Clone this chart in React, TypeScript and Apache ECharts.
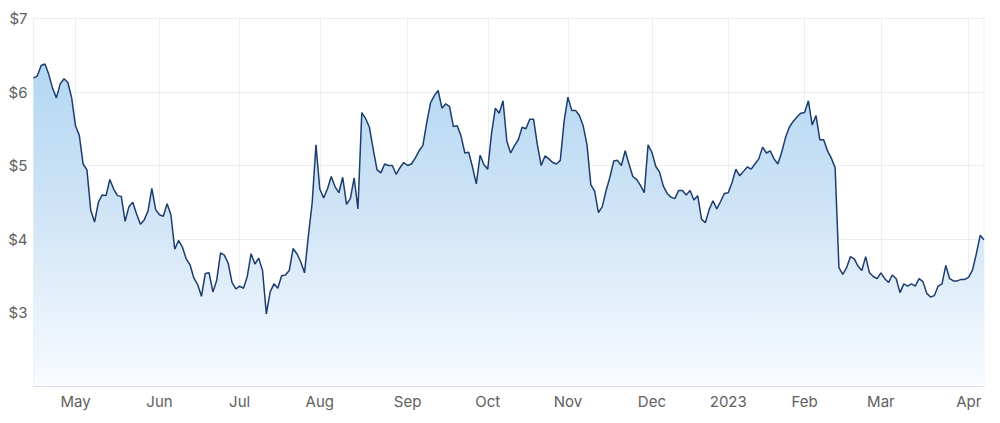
import * as echarts from "echarts";
import { useEffect, useRef } from "react";

// ASX trading calendar for the period shown
const startDay = "2022-04-12";
const endDay = "2023-04-11";
const holidays = [
  "2022-04-15", "2022-04-18", "2022-04-25", "2022-06-13", "2022-09-22",
  "2022-12-26", "2022-12-27", "2023-01-02", "2023-01-26", "2023-04-07", "2023-04-10",
];
const monthNames = ["Jan", "Feb", "Mar", "Apr", "May", "Jun", "Jul", "Aug", "Sep", "Oct", "Nov", "Dec"];

// closing price, one value per trading day
const prices = [
  6.19, 6.22, 6.36, 6.38, 6.24, 6.05, 5.92, 6.11, 6.18, 6.13, 5.92,
  5.54, 5.41, 5.02, 4.94, 4.39, 4.23, 4.5, 4.6, 4.59, 4.81,
  4.68, 4.59, 4.58, 4.24, 4.44, 4.5, 4.34, 4.2, 4.26, 4.38,
  4.69, 4.4, 4.33, 4.31, 4.48, 4.33, 3.86, 3.98, 3.89, 3.73,
  3.65, 3.47, 3.38, 3.22, 3.53, 3.54, 3.28, 3.44, 3.81, 3.78,
  3.67, 3.41, 3.32, 3.36, 3.33, 3.49, 3.8, 3.66, 3.74, 3.57,
  2.98, 3.28, 3.39, 3.33, 3.5, 3.51, 3.57, 3.87, 3.8, 3.69,
  3.54, 4.04, 4.49, 5.28, 4.68, 4.56, 4.68, 4.85, 4.71, 4.63,
  4.84, 4.47, 4.55, 4.83, 4.41, 5.72, 5.64, 5.52, 5.22, 4.94,
  4.9, 5.02, 5.0, 5.0, 4.88, 4.97, 5.04, 5.0, 5.02, 5.1,
  5.2, 5.27, 5.58, 5.85, 5.95, 6.02, 5.78, 5.84, 5.8, 5.53,
  5.54, 5.4, 5.17, 5.18, 4.98, 4.75, 5.14, 5.01, 4.95, 5.44,
  5.78, 5.71, 5.88, 5.33, 5.17, 5.27, 5.35, 5.52, 5.5, 5.63,
  5.63, 5.28, 5.0, 5.13, 5.09, 5.04, 5.02, 5.07, 5.6, 5.93,
  5.75, 5.75, 5.68, 5.54, 5.28, 4.74, 4.65, 4.36, 4.44, 4.66,
  4.84, 5.06, 5.07, 5.0, 5.2, 5.02, 4.85, 4.81, 4.73, 4.63,
  5.28, 5.18, 4.99, 4.91, 4.72, 4.62, 4.57, 4.55, 4.66, 4.66,
  4.6, 4.66, 4.53, 4.59, 4.27, 4.22, 4.4, 4.52, 4.41, 4.51,
  4.62, 4.63, 4.77, 4.95, 4.86, 4.92, 4.98, 4.95, 5.02, 5.09,
  5.25, 5.17, 5.2, 5.09, 5.02, 5.18, 5.38, 5.52, 5.6, 5.66,
  5.71, 5.72, 5.88, 5.55, 5.68, 5.35, 5.35, 5.2, 5.1, 4.97,
  3.61, 3.52, 3.61, 3.76, 3.73, 3.63, 3.57, 3.76, 3.54, 3.49,
  3.46, 3.54, 3.46, 3.41, 3.51, 3.46, 3.27, 3.39, 3.36, 3.39,
  3.36, 3.46, 3.42, 3.26, 3.21, 3.23, 3.36, 3.39, 3.64, 3.46,
  3.43, 3.43, 3.45, 3.45, 3.48, 3.58, 3.8, 4.05, 3.99,
];
const yLabels = [3, 4, 5, 6, 7];

function tradingDays(from: string, to: string, closed: string[]) {
  const out: string[] = [];
  const d = new Date(from + "T00:00:00Z");
  const last = new Date(to + "T00:00:00Z");
  while (d <= last) {
    const s = d.toISOString().slice(0, 10);
    const wd = d.getUTCDay();
    if (wd !== 0 && wd !== 6 && closed.indexOf(s) < 0) out.push(s);
    d.setUTCDate(d.getUTCDate() + 1);
  }
  return out;
}

const dates = tradingDays(startDay, endDay, holidays);

// first trading day of every month gets a label and a grid line
function isMonthStart(i: number) {
  if (i === 0) return false;
  return dates[i].slice(5, 7) !== dates[i - 1].slice(5, 7);
}

function monthLabel(v: string) {
  const m = parseInt(v.slice(5, 7), 10) - 1;
  return m === 0 ? v.slice(0, 4) : monthNames[m];
}

const App = () => {
  const chartRef = useRef<HTMLDivElement>(null);

  useEffect(() => {
    const chart = echarts.init(chartRef.current, undefined, { renderer: "svg" });
    chart.setOption({
      animation: false,
      grid: {
        left: 33.5,
        right: 16,
        top: 18.5,
        bottom: 37,
        show: true,
        borderColor: "#eceef1",
        borderWidth: 1,
      },
      xAxis: {
        type: "category",
        data: dates,
        boundaryGap: false,
        axisLine: { lineStyle: { color: "#dcdee2" } },
        axisTick: { show: false },
        axisLabel: {
          interval: (i: number) => isMonthStart(i),
          formatter: monthLabel,
          color: "#606060",
          fontSize: 15,
          fontFamily: "Inter",
          margin: 8,
        },
        splitLine: {
          show: true,
          interval: (i: number) => isMonthStart(i),
          lineStyle: { color: "#eceef1" },
        },
      },
      yAxis: {
        type: "value",
        min: 2,
        max: 7,
        interval: 1,
        axisLine: { show: false },
        axisTick: { show: false },
        axisLabel: {
          formatter: (v: number) => (yLabels.indexOf(v) >= 0 ? "$" + v : ""),
          color: "#606060",
          fontSize: 15,
          fontFamily: "Inter",
          margin: 6,
        },
        splitLine: { lineStyle: { color: "#eceef1" } },
      },
      series: [
        {
          type: "line",
          data: prices,
          symbol: "none",
          lineStyle: { color: "#1c3d6e", width: 1.5 },
          areaStyle: {
            opacity: 1,
            color: new echarts.graphic.LinearGradient(0, 0, 0, 1, [
              { offset: 0, color: "#b3d7f2" },
              { offset: 0.45, color: "#cfe4f6" },
              { offset: 1, color: "#f8fbff" },
            ]),
          },
        },
      ],
    });
    return () => {
      chart.dispose();
    };
  }, []);

  return (
    <div
      ref={chartRef}
      style={{ position: "fixed", left: 0, top: 0, width: "1000px", height: "423px", background: "#fff" }}
    ></div>
  );
};

export default App;
